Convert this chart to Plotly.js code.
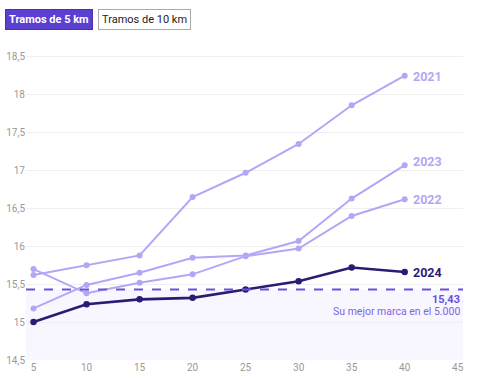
<!DOCTYPE html>
<html>
<head>
<meta charset="utf-8">
<script src="https://cdn.plot.ly/plotly-3.0.1.min.js"></script>
<style>html,body{margin:0;padding:0;background:#fff;}#chart{width:477px;height:380px;}</style>
</head>
<body>
<div id="chart"></div>
<script>
var km = [5, 10, 15, 20, 25, 30, 35, 40];
var y2021 = [15.62, 15.75, 15.88, 16.65, 16.97, 17.35, 17.86, 18.25];
var y2022 = [15.70, 15.38, 15.52, 15.63, 15.87, 15.97, 16.40, 16.62];
var y2023 = [15.18, 15.49, 15.65, 15.85, 15.88, 16.07, 16.63, 17.07];
var y2024 = [15.00, 15.235, 15.30, 15.32, 15.43, 15.54, 15.72, 15.66];
var best = 15.43;
var bestLabel = "15,43";
var bestText = "Su mejor marca en el 5.000";
var buttonLabels = ["Tramos de 5 km", "Tramos de 10 km"];

var light = "#b3a6f6";
var dark = "#2b1b72";
var accent = "#6a50dc";

function series(y, name, color, w, ms) {
  return {x: km, y: y, name: name, type: "scatter", mode: "lines+markers",
    line: {color: color, width: w}, marker: {color: color, size: ms},
    hoverinfo: "skip", showlegend: false};
}

var data = [
  series(y2021, "2021", light, 2, 6),
  series(y2022, "2022", light, 2, 6),
  series(y2023, "2023", light, 2, 6),
  series(y2024, "2024", dark, 2.6, 6.5)
];

function endLabel(y, text, color, dy) {
  return {x: km[km.length - 1], y: y[y.length - 1], xref: "x", yref: "y", text: "<b>" + text + "</b>",
    showarrow: false, xanchor: "left", xshift: 6, yshift: dy, font: {family: "Roboto", size: 12.5, color: color}};
}

var layout = {
  width: 477, height: 380,
  margin: {l: 26, r: 14, t: 53, b: 20},
  paper_bgcolor: "#fff", plot_bgcolor: "#fff",
  separators: ",.",
  font: {family: "Roboto", size: 10, color: "#999"},
  xaxis: {range: [4.29, 45.5], tickvals: [5, 10, 15, 20, 25, 30, 35, 40, 45], showgrid: false,
    zeroline: false, showline: false, ticks: "", tickfont: {size: 10, color: "#999"}, fixedrange: true},
  yaxis: {range: [14.5, 18.55], dtick: 0.5, tick0: 14.5, showgrid: true, gridcolor: "#efefef", gridwidth: 1,
    zeroline: false, showline: false, ticks: "", tickfont: {size: 10, color: "#999"}, fixedrange: true},
  shapes: [
    {type: "rect", xref: "paper", yref: "y", x0: 0, x1: 1, y0: 14.5, y1: best,
      fillcolor: "#f8f6ff", line: {width: 0}, layer: "below"},
    {type: "line", xref: "paper", yref: "y", x0: 0, x1: 1, y0: best, y1: best,
      line: {color: accent, width: 2, dash: "dash"}}
  ],
  annotations: [
    endLabel(y2021, "2021", light, -1),
    endLabel(y2022, "2022", light, 0),
    endLabel(y2023, "2023", light, 4),
    endLabel(y2024, "2024", dark, 0),
    {x: 1, y: best, xref: "paper", yref: "y", text: "<b>" + bestLabel + "</b>", showarrow: false,
      xanchor: "right", yanchor: "middle", yshift: -10, xshift: -1, font: {family: "Roboto", size: 11, color: accent}},
    {x: 1, y: best, xref: "paper", yref: "y", text: bestText, showarrow: false,
      xanchor: "right", yanchor: "middle", yshift: -22, xshift: -1, font: {family: "Roboto", size: 10.5, color: "#7d66e4"}},
    {x: (5 - 26) / 437, y: (360 - 9) / 307, xref: "paper", yref: "paper", text: "<b>" + buttonLabels[0] + "</b>",
      showarrow: false, xanchor: "left", yanchor: "top", bgcolor: "#5b3fd0", bordercolor: "#4a30b8",
      borderwidth: 1, borderpad: 3, font: {family: "Roboto", size: 11, color: "#fff"}},
    {x: (98 - 26) / 437, y: (360 - 9) / 307, xref: "paper", yref: "paper", text: buttonLabels[1],
      showarrow: false, xanchor: "left", yanchor: "top", bgcolor: "#fff", bordercolor: "#aaa",
      borderwidth: 1, borderpad: 3, font: {family: "Roboto", size: 11, color: "#222"}}
  ]
};

Plotly.newPlot("chart", data, layout, {displayModeBar: false, staticPlot: true});
</script>
</body>
</html>
